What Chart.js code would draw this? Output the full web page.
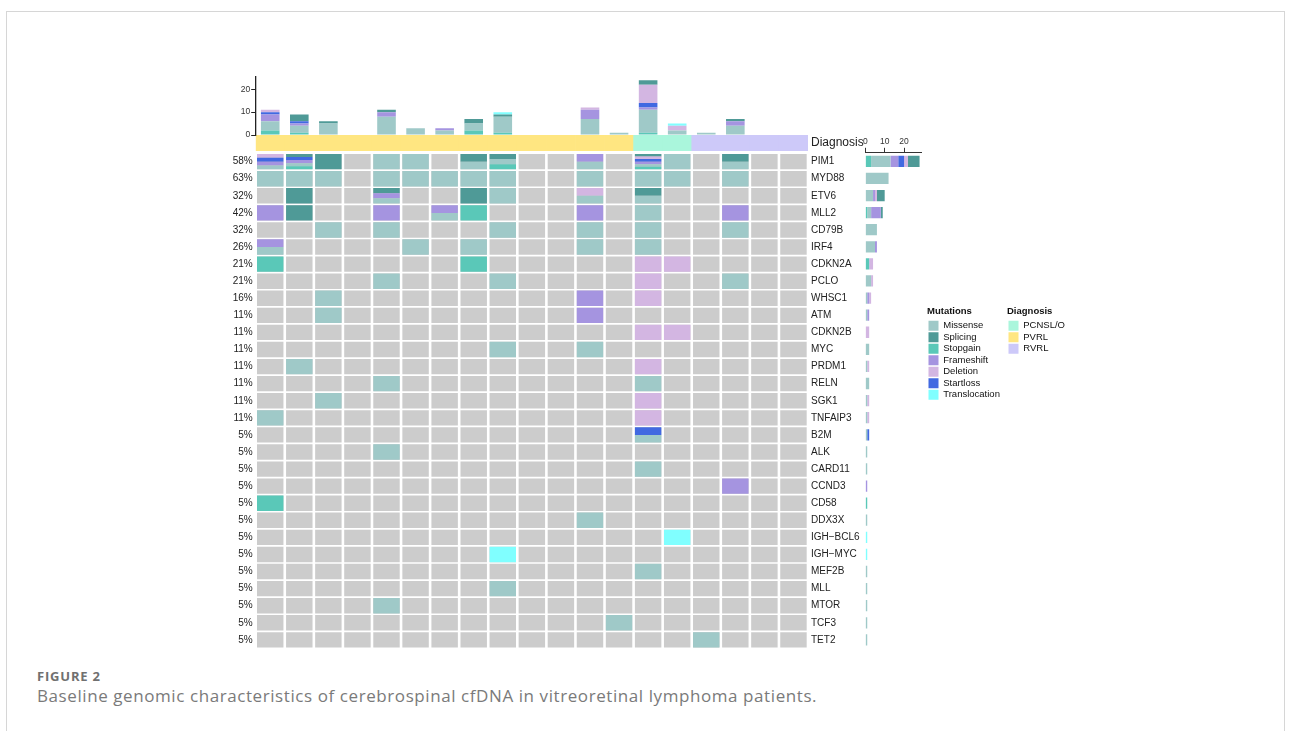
<!DOCTYPE html>
<html>
<head>
<meta charset="utf-8">
<script src="https://cdn.jsdelivr.net/npm/chart.js@4.4.1/dist/chart.umd.min.js"></script>
<style>
  body { margin: 0; background: #fff; width: 1292px; height: 731px; overflow: hidden; position: relative; }
  .card { position: absolute; left: 6px; top: 11px; width: 1279px; height: 760px; border: 1px solid #d6d6d6; box-sizing: border-box; }
  canvas { position: absolute; }
  .fig-no { position: absolute; left: 37px; top: 667px; font: bold 13px 'Open Sans', sans-serif; letter-spacing: 0.8px; color: #707070; line-height: 18px; }
  .caption { position: absolute; left: 37px; top: 685px; font: 17px 'Open Sans', sans-serif; letter-spacing: 0.58px; color: #7a7a7a; line-height: 22px; white-space: nowrap; }
</style>
</head>
<body>
<div class="card"></div>
<canvas id="gridChart" width="670" height="536" style="left:200px;top:124px"></canvas>
<canvas id="topChart" width="608" height="84" style="left:200px;top:64px"></canvas>
<canvas id="sideChart" width="84" height="525" style="left:856px;top:130px"></canvas>
<canvas id="mutLegend" width="78" height="240" style="left:927px;top:300px"></canvas>
<canvas id="diagLegend" width="70" height="240" style="left:1007px;top:300px"></canvas>
<div class="fig-no">FIGURE 2</div>
<div class="caption">Baseline genomic characteristics of cerebrospinal cfDNA in vitreoretinal lymphoma patients.</div>
<script>
const patients = ['P1', 'P2', 'P3', 'P4', 'P5', 'P6', 'P7', 'P8', 'P9', 'P10',
    'P11', 'P12', 'P13', 'P14', 'P15', 'P16', 'P17', 'P18', 'P19'];
const diagnosis = ['PVRL', 'PVRL', 'PVRL', 'PVRL', 'PVRL', 'PVRL', 'PVRL', 'PVRL', 'PVRL', 'PVRL',
    'PVRL', 'PVRL', 'PVRL', 'PCNSL/O', 'PCNSL/O', 'RVRL', 'RVRL', 'RVRL', 'RVRL'];
const genes = ['PIM1', 'MYD88', 'ETV6', 'MLL2', 'CD79B', 'IRF4', 'CDKN2A', 'PCLO', 'WHSC1', 'ATM',
    'CDKN2B', 'MYC', 'PRDM1', 'RELN', 'SGK1', 'TNFAIP3', 'B2M', 'ALK', 'CARD11', 'CCND3',
    'CD58', 'DDX3X', 'IGH\u2212BCL6', 'IGH\u2212MYC', 'MEF2B', 'MLL', 'MTOR', 'TCF3', 'TET2'];
const freqLabels = ['58%', '63%', '32%', '42%', '32%', '26%', '21%', '21%', '16%', '11%',
    '11%', '11%', '11%', '11%', '11%', '11%', '5%', '5%', '5%', '5%',
    '5%', '5%', '5%', '5%', '5%', '5%', '5%', '5%', '5%'];

// one token per patient, '.' = no alteration
// G stopgain, M missense, F frameshift, L startloss, D deletion, S splicing, T translocation
const calls = [
    'DLFM GMFLS S . M M . MS GMS . . MF . GMFLDS M . MS . .',
    'M M M . M M M M M . . M . M M . M . .',
    '. S . . MFS . . S M . . MD . MS . . . . .',
    'F S . . F . MF G . . . F . M . . F . .',
    '. . M . M . . . M . . M . M . . M . .',
    'MF . . . . M . M . . . M . M . . . . .',
    'G . . . . . . G . . . . . D D . . . .',
    '. . . . M . . . M . . . . D . . M . .',
    '. . M . . . . . . . . F . D . . . . .',
    '. . M . . . . . . . . F . . . . . . .',
    '. . . . . . . . . . . . . D D . . . .',
    '. . . . . . . . M . . M . . . . . . .',
    '. M . . . . . . . . . . . D . . . . .',
    '. . . . M . . . . . . . . M . . . . .',
    '. . M . . . . . . . . . . D . . . . .',
    'M . . . . . . . . . . . . D . . . . .',
    '. . . . . . . . . . . . . ML . . . . .',
    '. . . . M . . . . . . . . . . . . . .',
    '. . . . . . . . . . . . . M . . . . .',
    '. . . . . . . . . . . . . . . . F . .',
    'G . . . . . . . . . . . . . . . . . .',
    '. . . . . . . . . . . M . . . . . . .',
    '. . . . . . . . . . . . . . T . . . .',
    '. . . . . . . . T . . . . . . . . . .',
    '. . . . . . . . . . . . . M . . . . .',
    '. . . . . . . . M . . . . . . . . . .',
    '. . . . M . . . . . . . . . . . . . .',
    '. . . . . . . . . . . . M . . . . . .',
    '. . . . . . . . . . . . . . . M . . .'
];

const legendOrder = ['Missense', 'Splicing', 'Stopgain', 'Frameshift', 'Deletion', 'Startloss', 'Translocation'];
const stackOrder = ['Stopgain', 'Missense', 'Frameshift', 'Startloss', 'Deletion', 'Splicing', 'Translocation'];
const typeCode = { Stopgain: 'G', Missense: 'M', Frameshift: 'F', Startloss: 'L', Deletion: 'D', Splicing: 'S', Translocation: 'T' };
const diagTypes = ['PCNSL/O', 'PVRL', 'RVRL'];
const countTicks = [0, 10, 20];

// colours
const mutColors = {
    Missense: '#9fc9c8', Splicing: '#4f9a97', Stopgain: '#5ac8b8', Frameshift: '#a594e0',
    Deletion: '#d3b6e2', Startloss: '#4169e1', Translocation: '#80ffff'
};
const diagColors = { 'PCNSL/O': '#aaf6dc', PVRL: '#ffe681', RVRL: '#cdc9f9' };
const emptyColor = '#cccccc';

Chart.defaults.font.family = "'Liberation Sans', Arial, sans-serif";
Chart.defaults.color = '#222';

const cells = calls.map(row => row.trim().split(/\s+/));
const has = (tok, t) => tok.includes(typeCode[t]);

// counts for the side bars
const perPatient = t => patients.map((p, j) => cells.filter(row => has(row[j], t)).length);
const perGene = t => cells.map(row => row.filter(tok => has(tok, t)).length);

// heatmap rectangles (rows run 0..29 downward, diagnosis band sits above row 0)
const CELL_PAD = 0.05;
const bgData = [];
genes.forEach((g, i) => patients.forEach(p => bgData.push({ x: p, y: [i + CELL_PAD, i + 1 - CELL_PAD] })));

const stripeData = {};
stackOrder.forEach(t => stripeData[t] = []);
cells.forEach((row, i) => row.forEach((tok, j) => {
    const present = stackOrder.filter(t => has(tok, t));
    const h = (1 - 2 * CELL_PAD) / present.length;
    present.forEach((t, k) => {
        const bottom = i + 1 - CELL_PAD - k * h;
        stripeData[t].push({ x: patients[j], y: [bottom - h, bottom] });
    });
}));

const bandData = patients.map(p => ({ x: p, y: [-1.04, -0.14] }));

function rowTicks(scale, withBand) {
    const t = genes.map((g, i) => ({ value: i + 0.5 }));
    scale.ticks = withBand ? [{ value: -0.59 }].concat(t) : t;
}

// chart.js paints the first dataset last, so the grey cells go at the end
new Chart(document.getElementById('gridChart'), {
    type: 'bar',
    data: {
        labels: patients,
        datasets: [
            ...stackOrder.map(t => ({ label: t, data: stripeData[t], backgroundColor: mutColors[t] })),
            { label: 'Diagnosis', data: bandData, backgroundColor: diagnosis.map(d => diagColors[d]), barPercentage: 1, categoryPercentage: 1 },
            { label: 'None', data: bgData, backgroundColor: emptyColor }
        ]
    },
    options: {
        responsive: false,
        animation: false,
        datasets: { bar: { grouped: false, barPercentage: 0.91, categoryPercentage: 1, borderWidth: 0 } },
        layout: { padding: { top: 11, bottom: 11.6, left: 0, right: 0 } },
        plugins: { legend: { display: false }, tooltip: { enabled: false } },
        scales: {
            x: { type: 'category', labels: patients, display: false, offset: true },
            y: {
                type: 'linear', min: -1.06, max: 29, reverse: true, position: 'left',
                afterFit: s => { s.width = 55.7; },
                afterBuildTicks: s => rowTicks(s, false),
                ticks: { autoSkip: false, padding: 3, font: { size: 10 }, color: '#222', callback: (v, i) => freqLabels[i] },
                grid: { display: false, drawTicks: false },
                border: { display: false }
            },
            yGene: {
                axis: 'y', type: 'linear', min: -1.06, max: 29, reverse: true, position: 'right',
                afterFit: s => { s.width = 62; },
                afterBuildTicks: s => rowTicks(s, true),
                ticks: {
                    autoSkip: false, padding: 3, color: '#222',
                    font: ctx => ({ size: ctx.index === 0 ? 12 : 10 }),
                    callback: (v, i) => i === 0 ? 'Diagnosis' : genes[i - 1]
                },
                grid: { display: false, drawTicks: false },
                border: { display: false }
            }
        }
    }
});

new Chart(document.getElementById('topChart'), {
    type: 'bar',
    data: {
        labels: patients,
        datasets: stackOrder.map(t => ({ label: t, data: perPatient(t), backgroundColor: mutColors[t] }))
    },
    options: {
        responsive: false,
        animation: false,
        datasets: { bar: { barPercentage: 0.64, categoryPercentage: 1, borderWidth: 0 } },
        layout: { padding: { top: 12.7, bottom: 13, left: 0, right: 0 } },
        plugins: { legend: { display: false }, tooltip: { enabled: false } },
        scales: {
            x: { stacked: true, display: false },
            y: {
                stacked: true, min: 0, max: 25.5,
                afterFit: s => { s.width = 55.7; },
                afterBuildTicks: s => { s.ticks = countTicks.map(v => ({ value: v })); },
                ticks: { padding: 1, font: { size: 8.5 }, color: '#333' },
                grid: { drawOnChartArea: false, tickLength: 4.5, color: '#222' },
                border: { color: '#222', width: 1.3 }
            }
        }
    }
});

new Chart(document.getElementById('sideChart'), {
    type: 'bar',
    data: {
        labels: genes,
        datasets: stackOrder.map(t => ({ label: t, data: perGene(t), backgroundColor: mutColors[t] }))
    },
    options: {
        indexAxis: 'y',
        responsive: false,
        animation: false,
        datasets: { bar: { barPercentage: 0.66, categoryPercentage: 1, borderWidth: 0 } },
        layout: { padding: { top: 2, bottom: 6.6, left: 9.3, right: 18.3 } },
        plugins: { legend: { display: false }, tooltip: { enabled: false } },
        scales: {
            x: {
                stacked: true, position: 'top', min: 0, max: 29.1,
                afterFit: s => { s.height = 20.8; },
                afterBuildTicks: s => { s.ticks = countTicks.map(v => ({ value: v })); },
                ticks: { padding: 1, font: { size: 8.5 }, color: '#333', maxRotation: 0 },
                grid: { drawOnChartArea: false, tickLength: 5, color: '#333' },
                border: { color: '#333', width: 1 }
            },
            y: { stacked: true, display: false }
        }
    }
});

function legendChart(id, title, names, colors) {
    return new Chart(document.getElementById(id), {
        type: 'bar',
        data: { labels: [], datasets: [] },
        options: {
            responsive: false,
            animation: false,
            layout: { padding: 0 },
            scales: { x: { display: false }, y: { display: false } },
            plugins: {
                tooltip: { enabled: false },
                legend: {
                    position: 'top',
                    align: 'start',
                    title: {
                        display: true, text: title, position: 'start', color: '#111',
                        font: { size: 9.5, weight: 'bold' }, padding: { top: 6.25, bottom: 1.55 }
                    },
                    labels: {
                        boxWidth: 10, boxHeight: 10, padding: 1.5, color: '#222', font: { size: 9.5 },
                        generateLabels: () => names.map((n, i) => ({
                            text: n, fillStyle: colors[n], strokeStyle: colors[n], lineWidth: 0, hidden: false, datasetIndex: i
                        }))
                    }
                }
            }
        }
    });
}

legendChart('mutLegend', 'Mutations', legendOrder, mutColors);
legendChart('diagLegend', 'Diagnosis', diagTypes, diagColors);
</script>
</body>
</html>
